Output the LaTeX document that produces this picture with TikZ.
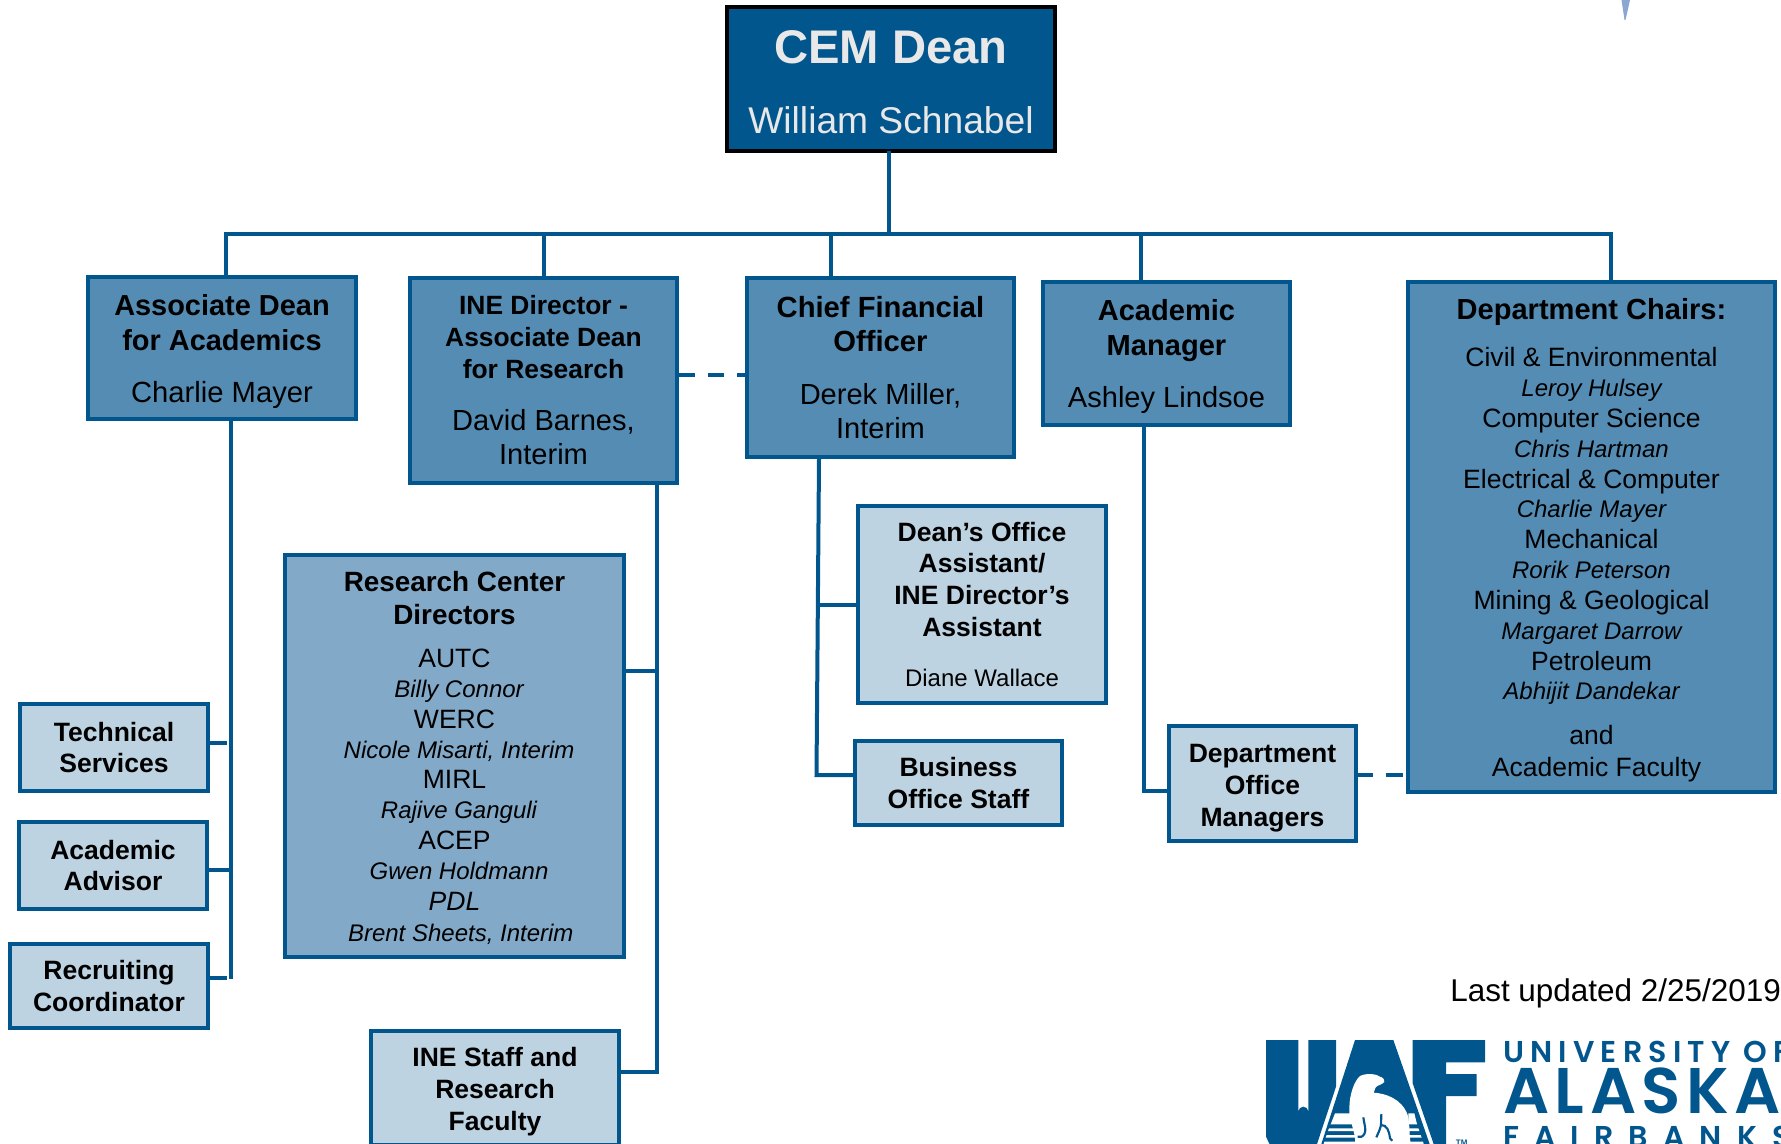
\documentclass[tikz,border=0pt]{standalone}
\usepackage{fontspec}
\setmainfont{Liberation Sans}
\newfontfamily\logoA[LetterSpace=20.5]{Poppins SemiBold}
\newfontfamily\logoB[LetterSpace=8.5]{Poppins SemiBold}
\newfontfamily\logoC[LetterSpace=50]{Poppins SemiBold}
\definecolor{uafblue}{HTML}{02568E}
\definecolor{midblue}{HTML}{548CB4}
\definecolor{rcblue}{HTML}{82A9C8}
\definecolor{paleblue}{HTML}{BDD3E2}
\definecolor{lightgrey}{HTML}{E8E8E8}
\definecolor{sliver}{HTML}{8CA6D2}
\tikzset{
  x=0.75pt,y=-0.75pt,
  orgbox/.style={draw=uafblue,line width=3pt,rectangle,inner sep=0pt,outer sep=0pt,align=flush center},
  link/.style={draw=uafblue,line width=3pt},
  dashlinkA/.style={link,dash pattern=on 12pt off 9.75pt},
  dashlinkB/.style={link,dash pattern=on 11pt off 9.75pt on 12.75pt off 9.75pt},
  logotext/.style={anchor=base west,inner sep=0pt,text=uafblue},
}
% one text line: size, distance from previous baseline, text
\newcommand{\ol}[3]{{\fontsize{#1pt}{#2pt}\selectfont\spaceskip=0pt\xspaceskip=0pt\mbox{#3}\par}}
\newcommand{\obl}[3]{{\fontsize{#1pt}{#2pt}\selectfont\bfseries\spaceskip=0pt\xspaceskip=0pt\mbox{#3}\par}}
\newcommand{\oil}[3]{{\fontsize{#1pt}{#2pt}\selectfont\itshape\spaceskip=0pt\xspaceskip=0pt\mbox{#3}\par}}
% invisible height on a box's first line, which moves its text down
\newcommand{\lift}[1]{\rule{0pt}{#1}}
% box: name, x1, y1, x2, y2 (outer edges in pixels), style, text
\newcommand{\obox}[7]{%
  \pgfmathsetmacro{\bw}{(#4-#2)*0.75-3}%
  \pgfmathsetmacro{\bh}{(#5-#3)*0.75-3}%
  \pgfmathsetmacro{\cx}{(#2+#4)/2}%
  \pgfmathsetmacro{\cy}{(#3+#5)/2}%
  \node[orgbox,minimum width=\bw pt,minimum height=\bh pt,text width=\bw pt,#6] (#1) at (\cx,\cy) {#7};}
\begin{document}
\begin{tikzpicture}
\useasboundingbox (0,0) rectangle (1781,1144);
\clip (0,0) rectangle (1781,1144);
% boxes
\obox{dean}{725}{5}{1057}{153}{draw=black,fill=uafblue,text=lightgrey}{\obl{35.4}{40}{\lift{30.1pt}CEM Dean}\ol{27.9}{52.5}{William Schnabel}}
\obox{assoc}{86}{275}{358}{421}{fill=midblue}{\obl{21.7}{26}{\lift{21pt}Associate Dean}\obl{21.7}{26.4}{for Academics}\ol{21.9}{39}{Charlie Mayer}}
\obox{ine}{408}{276}{679}{485}{fill=midblue}{\obl{19.8}{24}{INE Director -}\obl{19.8}{23.9}{Associate Dean}\obl{19.8}{23.9}{for Research}\ol{21.8}{39}{David Barnes,}\ol{21.8}{25.6}{Interim}}
\obox{cfo}{745}{276}{1016}{459}{fill=midblue}{\obl{21.9}{26}{Chief Financial}\obl{21.9}{26}{Officer}\ol{21.8}{39.5}{Derek Miller,}\ol{21.8}{25.6}{Interim}}
\obox{amgr}{1041}{280}{1292}{427}{fill=midblue}{\obl{21.8}{26}{\lift{20.2pt}Academic}\obl{21.8}{26.4}{Manager}\ol{21.8}{39}{Ashley Lindsoe}}
\obox{chairs}{1406}{280}{1777}{794}{fill=midblue}{\obl{21.8}{26}{\lift{21.1pt}Department Chairs:}\ol{19.9}{35}{Civil \& Environmental}\oil{18}{22.2}{Leroy Hulsey}\ol{19.9}{23.6}{Computer Science}\oil{18}{22.2}{Chris Hartman}\ol{19.9}{23.6}{Electrical \& Computer}\oil{18}{22}{Charlie Mayer}\ol{19.9}{22.7}{Mechanical}\oil{18}{22.7}{Rorik Peterson}\ol{19.9}{23}{Mining \& Geological}\oil{18}{23}{Margaret Darrow}\ol{19.9}{22.7}{Petroleum}\oil{18}{22.2}{Abhijit Dandekar}\ol{19.9}{34}{and}\ol{19.9}{23.9}{\hspace*{7.5pt}Academic Faculty}}
\obox{rcd}{283}{553}{626}{959}{fill=rcblue}{\obl{20.9}{25}{\lift{17.9pt}Research Center}\obl{20.9}{24.7}{Directors}\ol{19.9}{32.4}{AUTC}\oil{18}{22.4}{\hspace*{6.8pt}Billy Connor}\ol{19.9}{22.8}{WERC}\oil{18}{22.7}{\hspace*{6.8pt}Nicole Misarti, Interim}\ol{19.9}{22.7}{MIRL}\oil{18}{22.7}{\hspace*{6.8pt}Rajive Ganguli}\ol{19.9}{22.7}{ACEP}\oil{18}{22.9}{\hspace*{6.8pt}Gwen Holdmann}\oil{19.9}{23}{PDL}\oil{18}{23}{\hspace*{9.4pt}Brent Sheets, Interim}}
\obox{office}{856}{504}{1108}{705}{fill=paleblue}{\obl{19.9}{24}{Dean’s Office}\obl{19.9}{23.9}{Assistant/}\obl{19.9}{23.9}{INE Director’s}\obl{19.9}{24.1}{Assistant}\ol{18}{37.5}{Diane Wallace}}
\obox{biz}{853}{739}{1064}{827}{fill=paleblue}{\obl{19.9}{24}{Business}\obl{19.9}{23.9}{Office Staff}}
\obox{dom}{1167}{724}{1358}{843}{fill=paleblue}{\obl{19.9}{24}{\lift{20.5pt}Department}\obl{19.9}{23.9}{Office}\obl{19.9}{23.9}{Managers}}
\obox{tech}{18}{702}{210}{793}{fill=paleblue}{\obl{19.9}{24}{Technical}\obl{19.9}{23.9}{Services}}
\obox{adv}{17}{820}{209}{911}{fill=paleblue}{\obl{19.9}{24}{Academic}\obl{19.9}{23.9}{Advisor}}
\obox{rec}{8}{942}{210}{1030}{fill=paleblue}{\obl{19.9}{24}{Recruiting}\obl{19.9}{23.9}{Coordinator}}
\obox{staff}{369}{1029}{621}{1147}{fill=paleblue}{\obl{19.9}{24}{\lift{19.6pt}INE Staff and}\obl{19.9}{23.9}{Research}\obl{19.9}{23.9}{Faculty}}
% connectors
\coordinate (busL) at (226,234);
\coordinate (busR) at (1611,234);
\coordinate (dropD) at (889,234);
\coordinate (dropI) at (544,234);
\coordinate (dropC) at (831,234);
\coordinate (dropM) at (1141,234);
\draw[link] (dean.south -| dropD) -- (dropD);
\draw[link] (busL |- assoc.north) -- (busL) -- (busR) -- (busR |- chairs.north);
\draw[link] (dropI) -- (dropI |- ine.north);
\draw[link] (dropC) -- (dropC |- cfo.north);
\draw[link] (dropM) -- (dropM |- amgr.north);
% associate dean branch
\coordinate (aT) at (230.5,421);
\coordinate (aB) at (230.5,979);
\coordinate (tTech) at (227,743);
\coordinate (tAdv) at (230.5,870);
\coordinate (tRec) at (227,978);
\draw[link] (aT) -- (aB);
\draw[link] (tTech) -- (tTech -| tech.east);
\draw[link] (tAdv) -- (tAdv -| adv.east);
\draw[link] (tRec) -- (tRec -| rec.east);
% INE branch
\coordinate (iT) at (657,485);
\coordinate (iB) at (657,1072);
\draw[link] (iT) -- (iB) -- (iB -| staff.east);
\coordinate (iR) at (657,671);
\draw[link] (iR) -- (iR -| rcd.east);
% CFO branch
\coordinate (cT) at (819,459);
\coordinate (cB) at (816.5,775);
\coordinate (cO) at (818,605);
\draw[link] (cT) -- (cB) -- (cB -| biz.west);
\draw[link] (cO) -- (cO -| office.west);
% academic manager branch
\coordinate (mT) at (1144,427);
\coordinate (mB) at (1144,791);
\draw[link] (mT) -- (mB) -- (mB -| dom.west);
% dashed links
\coordinate (d1) at (679,375);
\draw[dashlinkA] (d1) -- (d1 -| cfo.west);
\coordinate (d2) at (1358,775);
\draw[dashlinkB] (d2) -- (d2 -| chairs.west);
% free text
\node[anchor=base west,inner sep=0pt,font=\fontsize{23.6pt}{26pt}\selectfont] (updated) at (1450,1001) {Last updated 2/25/2019};
% sliver of art at top right
\fill[sliver] (1621.5,0) -- (1630,0) -- (1625.5,20) -- (1624.5,20) -- cycle;
% UAF logo
\begin{scope}[shift={(1255,1030)},x=0.25pt,y=-0.25pt]
\fill[uafblue] (33,30) -- (130,30) -- (130,245) arc[start angle=180,end angle=360,radius=15] -- (160,30) -- (243,30) -- (243,170) -- (185,345) -- (45,345) -- (33,320) -- cycle;
\fill[uafblue] (300,30) -- (415,30) -- (525,345) -- (198,345) -- cycle;
\fill[uafblue] (473,30) -- (690,30) -- (690,97) -- (573,97) -- (573,132) -- (665,132) -- (665,198) -- (573,198) -- (573,345) -- (537,345) -- (473,160) -- cycle;
% stripes
\fill[white] (240,250) -- (298,250) -- (298,283) -- (227,283) -- cycle;
\fill[white] (222,295) -- (298,295) -- (298,303) -- (219,303) -- cycle;
\fill[white] (215,315) -- (310,315) -- (310,323) -- (212,323) -- cycle;
\fill[white] (208,335) -- (320,335) -- (320,345) -- (205,345) -- cycle;
\fill[white] (460,250) -- (478,250) -- (486,283) -- (460,283) -- cycle;
\fill[white] (460,295) -- (490,295) -- (493,303) -- (460,303) -- cycle;
\fill[white] (460,315) -- (497,315) -- (500,323) -- (460,323) -- cycle;
\fill[white] (460,335) -- (504,335) -- (507,345) -- (460,345) -- cycle;
% bear
\fill[white] (315,138) .. controls (335,128) and (365,132) .. (375,140) .. controls (385,143) and (390,150) .. (388,156) .. controls (380,165) and (368,165) .. (362,172) -- (356,188) .. controls (390,190) and (440,205) .. (458,255) .. controls (465,280) and (462,320) .. (468,345) -- (300,345) .. controls (305,310) and (280,270) .. (283,235) .. controls (283,190) and (300,150) .. (315,138) -- cycle;
\draw[uafblue,line width=1.6pt] (325,262) .. controls (328,285) and (335,300) .. (328,312) .. controls (322,322) and (315,322) .. (308,320);
\draw[uafblue,line width=1.6pt] (379,252) -- (378,285) .. controls (375,300) and (368,312) .. (364,322);
\draw[uafblue,line width=1.6pt] (378,285) .. controls (395,285) and (402,300) .. (405,325) -- (412,332);
\node[anchor=base,inner sep=0pt,font=\fontsize{6pt}{7pt}\selectfont\bfseries,text=uafblue] (tm) at (620,345) {TM};
\end{scope}
\node[logotext,font=\logoA\fontsize{22.6pt}{26pt}\selectfont] (univ) at (1503,1062.5) {UNIVERSITY OF};
\node[logotext,font=\logoB\fontsize{48.4pt}{54pt}\selectfont] (alaska) at (1503,1113) {ALASKA};
\node[logotext,font=\logoC\fontsize{22.6pt}{26pt}\selectfont] (fbks) at (1503,1147) {FAIRBANKS};
\end{tikzpicture}
\end{document}
